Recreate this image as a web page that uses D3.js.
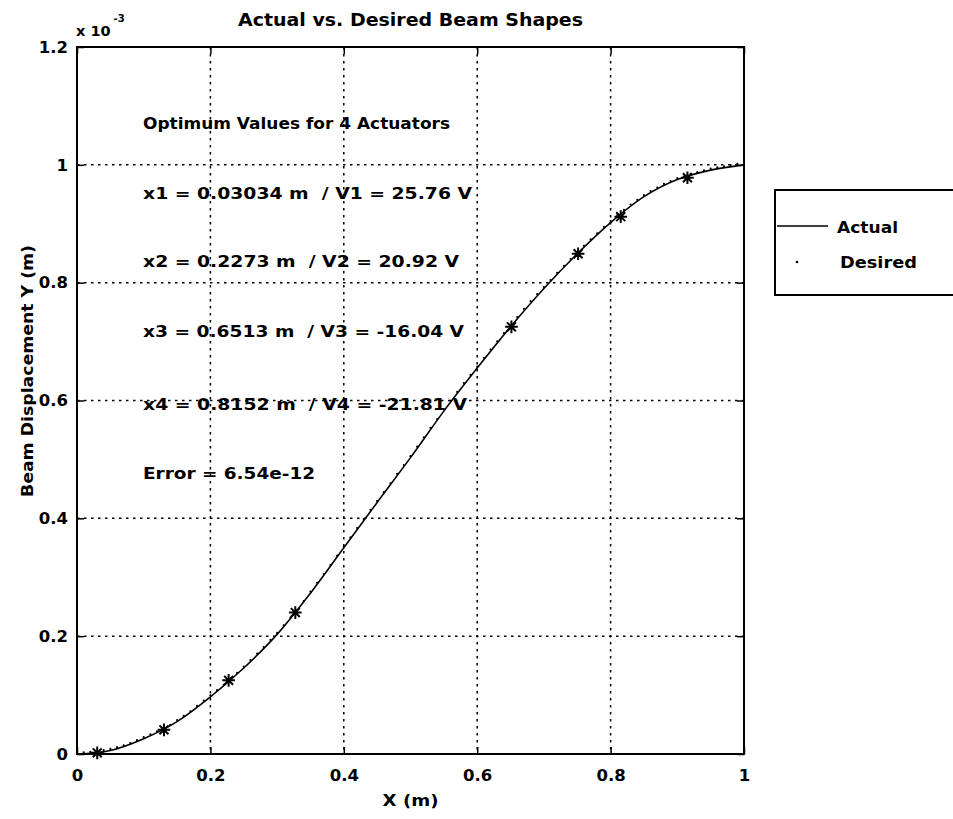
<!DOCTYPE html>
<html><head><meta charset="utf-8">
<script src="https://cdn.jsdelivr.net/npm/d3@7"></script>
<style>
html,body{margin:0;padding:0;background:#fff;}
svg{display:block;}
text{font-family:"DejaVu Sans",Arial,sans-serif;font-weight:bold;fill:#000;}
</style>
</head><body>
<svg id="chart" width="953" height="819"></svg>
<script>
// ---- data (Y values in units of 1e-3 m) ----
const xTicks = [0, 0.2, 0.4, 0.6, 0.8, 1];
const xTickLabels = ["0", "0.2", "0.4", "0.6", "0.8", "1"];
const yTicks = [0, 0.2, 0.4, 0.6, 0.8, 1, 1.2];
const yTickLabels = ["0", "0.2", "0.4", "0.6", "0.8", "1", "1.2"];

const actualX = [0,0.05,0.1,0.15,0.2,0.25,0.3,0.35,0.4,0.45,0.5,0.55,0.6,0.65,0.7,0.75,0.8,0.85,0.9,0.95,1];
const actualY = [0,0.006,0.026,0.055,0.097,0.146,0.203,0.273,0.350,0.427,0.503,0.582,0.655,0.725,0.790,0.849,0.902,0.946,0.975,0.991,1.000];

const desiredX = [0,0.01,0.02,0.03,0.04,0.05,0.06,0.07,0.08,0.09,0.1,0.11,0.12,0.13,0.14,0.15,0.16,0.17,0.18,0.19,0.2,
  0.21,0.22,0.23,0.24,0.25,0.26,0.27,0.28,0.29,0.3,0.31,0.32,0.33,0.34,0.35,0.36,0.37,0.38,0.39,0.4,
  0.41,0.42,0.43,0.44,0.45,0.46,0.47,0.48,0.49,0.5,0.51,0.52,0.53,0.54,0.55,0.56,0.57,0.58,0.59,0.6,
  0.61,0.62,0.63,0.64,0.65,0.66,0.67,0.68,0.69,0.7,0.71,0.72,0.73,0.74,0.75,0.76,0.77,0.78,0.79,0.8,
  0.81,0.82,0.83,0.84,0.85,0.86,0.87,0.88,0.89,0.9,0.91,0.92,0.93,0.94,0.95,0.96,0.97,0.98,0.99,1];
const desiredY = [0,0.0003,0.001,0.002,0.004,0.006,0.009,0.012,0.016,0.021,0.026,0.031,0.036,0.041,0.047,0.055,0.062,0.070,0.079,0.088,0.097,
  0.106,0.115,0.125,0.135,0.146,0.157,0.168,0.179,0.191,0.203,0.216,0.229,0.242,0.257,0.273,0.288,0.303,0.318,0.334,0.350,
  0.365,0.381,0.396,0.412,0.427,0.442,0.457,0.473,0.488,0.503,0.519,0.535,0.551,0.566,0.582,0.597,0.612,0.627,0.641,0.655,
  0.670,0.684,0.698,0.712,0.725,0.739,0.753,0.766,0.778,0.790,0.802,0.814,0.826,0.838,0.849,0.860,0.871,0.881,0.892,0.902,
  0.912,0.921,0.930,0.938,0.946,0.953,0.959,0.965,0.970,0.975,0.978,0.982,0.985,0.988,0.991,0.993,0.995,0.997,0.999,1.000];

// actuator edge markers (asterisks)
const edgeX = [0.03034,0.13034,0.2273,0.3273,0.6513,0.7513,0.8152,0.9152];
const edgeY = [0.002,0.041,0.125,0.240,0.725,0.849,0.912,0.978];

const titleText = "Actual vs. Desired Beam Shapes";
const xLabel = "X (m)";
const yLabel = "Beam Displacement Y (m)";
const annotations = [
  "Optimum Values for 4 Actuators",
  "x1 = 0.03034 m  / V1 = 25.76 V",
  "x2 = 0.2273 m  / V2 = 20.92 V",
  "x3 = 0.6513 m  / V3 = -16.04 V",
  "x4 = 0.8152 m  / V4 = -21.81 V",
  "Error = 6.54e-12"
];
const annotationY = [1.071, 0.952, 0.837, 0.718, 0.594, 0.477];
const legendLabels = ["Actual", "Desired"];

// ---- layout ----
const L = 77, R = 744, T = 47, B = 754;
const svg = d3.select("#chart");
const x = d3.scaleLinear().domain([0, 1]).range([L, R]);
const y = d3.scaleLinear().domain([0, 1.2]).range([B, T]);

// grid
const gridDash = "2.5,4.5";
svg.append("g").selectAll("line").data(xTicks.filter(d => d > 0 && d < 1)).join("line")
  .attr("x1", d => x(d)).attr("x2", d => x(d)).attr("y1", T).attr("y2", B)
  .attr("stroke", "#000").attr("stroke-width", 1.5).attr("stroke-dasharray", gridDash);
svg.append("g").selectAll("line").data(yTicks.filter(d => d > 0 && d < 1.2)).join("line")
  .attr("x1", L).attr("x2", R).attr("y1", d => y(d)).attr("y2", d => y(d))
  .attr("stroke", "#000").attr("stroke-width", 1.5).attr("stroke-dasharray", gridDash);

// axes with inward ticks
const tl = 7;
svg.append("g").attr("transform", `translate(0,${B})`)
  .call(d3.axisBottom(x).tickValues(xTicks).tickFormat((d, i) => xTickLabels[i]).tickSizeInner(-tl).tickSizeOuter(0).tickPadding(15));
svg.append("g").attr("transform", `translate(${L},0)`)
  .call(d3.axisLeft(y).tickValues(yTicks).tickFormat((d, i) => yTickLabels[i]).tickSizeInner(-tl).tickSizeOuter(0).tickPadding(9));
svg.append("g").attr("transform", `translate(0,${T})`)
  .call(d3.axisTop(x).tickValues(xTicks).tickFormat("").tickSizeInner(-tl).tickSizeOuter(0));
svg.append("g").attr("transform", `translate(${R},0)`)
  .call(d3.axisRight(y).tickValues(yTicks).tickFormat("").tickSizeInner(-tl).tickSizeOuter(0));
svg.selectAll(".domain").remove();
svg.selectAll(".tick line").attr("stroke", "#000").attr("stroke-width", 1.5);
svg.selectAll(".tick text").attr("font-family", "'DejaVu Sans',Arial,sans-serif")
  .attr("font-weight", "bold").attr("font-size", 16.5).attr("fill", "#000");

// box
svg.append("rect").attr("x", L).attr("y", T).attr("width", R - L).attr("height", B - T)
  .attr("fill", "none").attr("stroke", "#000").attr("stroke-width", 2);

// exponent label
const ex = svg.append("text").attr("x", L - 1).attr("y", 36).attr("font-size", 14.5);
ex.append("tspan").text("x 10");
ex.append("tspan").attr("dy", -14).attr("dx", 3).attr("font-size", 10).text("-3");

// actual line
svg.append("path")
  .datum(actualX.map((d, i) => [d, actualY[i]]))
  .attr("d", d3.line().x(d => x(d[0])).y(d => y(d[1])).curve(d3.curveCatmullRom))
  .attr("fill", "none").attr("stroke", "#000").attr("stroke-width", 1.6);

// desired dots
svg.append("g").selectAll("circle").data(desiredX.map((d, i) => [d, desiredY[i]])).join("circle")
  .attr("cx", d => x(d[0])).attr("cy", d => y(d[1]) - 1.5).attr("r", 1.1).attr("fill", "#000");

// asterisks
const starType = {
  draw(ctx, size) {
    const r = Math.sqrt(size) / 2, d = r * 0.7071;
    ctx.moveTo(-r, 0); ctx.lineTo(r, 0);
    ctx.moveTo(0, -r); ctx.lineTo(0, r);
    ctx.moveTo(-d, -d); ctx.lineTo(d, d);
    ctx.moveTo(-d, d); ctx.lineTo(d, -d);
  }
};
svg.append("g").selectAll("path").data(edgeX.map((d, i) => [d, edgeY[i]])).join("path")
  .attr("transform", d => `translate(${x(d[0])},${y(d[1])})`)
  .attr("d", d3.symbol().type(starType).size(160))
  .attr("fill", "none").attr("stroke", "#000").attr("stroke-width", 2);

// annotations
const annWidths = [307, 329, 316, 321, 324, 172];
svg.append("g").selectAll("text").data(annotations).join("text")
  .attr("x", x(0.099)).attr("y", (d, i) => y(annotationY[i]) + 6)
  .attr("font-size", 16).style("white-space", "pre")
  .attr("textLength", (d, i) => annWidths[i]).attr("lengthAdjust", "spacingAndGlyphs")
  .text(d => d);

// title & axis labels
svg.append("text").attr("x", (L + R) / 2).attr("y", 26).attr("text-anchor", "middle")
  .attr("font-size", 17).attr("textLength", 345).attr("lengthAdjust", "spacingAndGlyphs").text(titleText);
svg.append("text").attr("x", (L + R) / 2).attr("y", 806).attr("text-anchor", "middle")
  .attr("font-size", 16).attr("textLength", 56).attr("lengthAdjust", "spacingAndGlyphs").text(xLabel);
svg.append("text").attr("transform", "translate(33,371) rotate(-90)").attr("text-anchor", "middle")
  .attr("font-size", 16).attr("textLength", 252).attr("lengthAdjust", "spacingAndGlyphs").text(yLabel);

// legend
svg.append("rect").attr("x", 775).attr("y", 190).attr("width", 200).attr("height", 105)
  .attr("fill", "#fff").attr("stroke", "#000").attr("stroke-width", 2);
svg.append("line").attr("x1", 777).attr("x2", 828).attr("y1", 226).attr("y2", 226)
  .attr("stroke", "#000").attr("stroke-width", 1.6);
svg.append("circle").attr("cx", 797).attr("cy", 262).attr("r", 1.3).attr("fill", "#000");
svg.append("text").attr("x", 837).attr("y", 233).attr("font-size", 16)
  .attr("textLength", 61).attr("lengthAdjust", "spacingAndGlyphs").text(legendLabels[0]);
svg.append("text").attr("x", 840).attr("y", 268).attr("font-size", 16)
  .attr("textLength", 77).attr("lengthAdjust", "spacingAndGlyphs").text(legendLabels[1]);
</script>
</body></html>
